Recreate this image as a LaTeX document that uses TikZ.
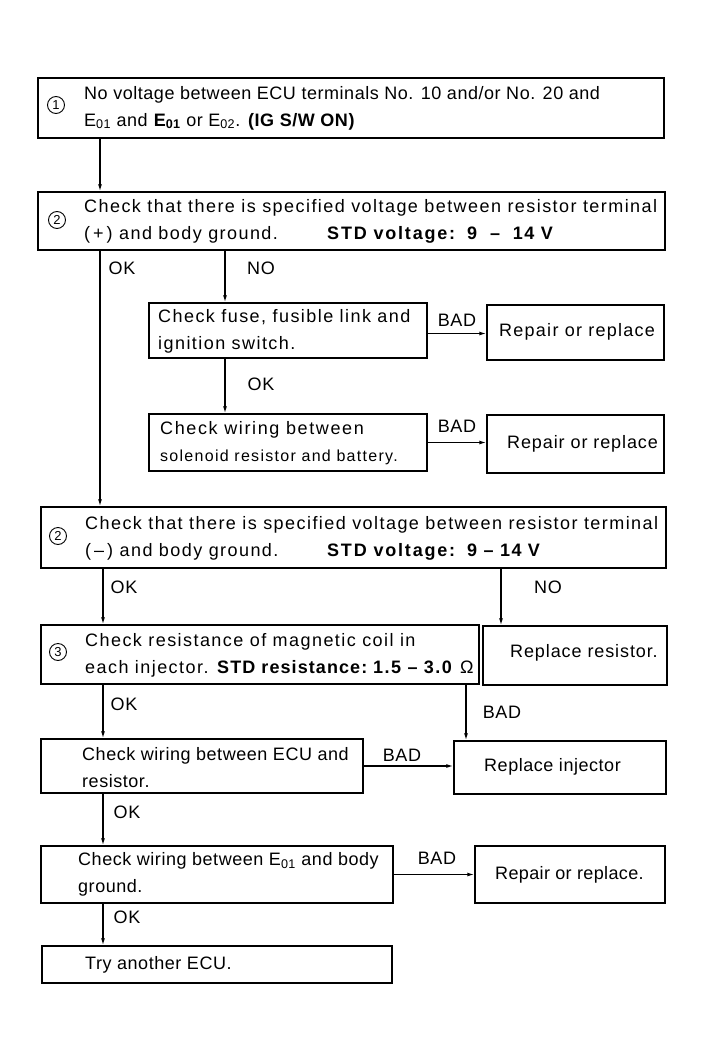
\documentclass[tikz,border=0pt]{standalone}
\usepackage{fontspec}
\setmainfont{Liberation Sans}[LetterSpace=3]
\usetikzlibrary{arrows.meta}

\begin{document}
\begin{tikzpicture}[x=1pt,y=-1pt,
    box/.style={draw,line width=1.4pt,inner sep=0pt},
    txt/.style={anchor=west,align=left,inner sep=0pt,font=\fontsize{18}{27}\selectfont},
    wide/.style={txt,font=\fontsize{18}{27}\selectfont\addfontfeature{LetterSpace=8}},
    lbl/.style={inner sep=0pt,font=\fontsize{18}{20}\selectfont},
    num/.style={draw,circle,line width=0.9pt,inner sep=0pt,minimum size=17pt,font=\fontsize{13}{13}\selectfont},
    arr/.style={line width=1.3pt,-{Latex[length=7pt,width=4pt]}}]
    \useasboundingbox (0,0) rectangle (705,1062);
    % boxes
    \node[box,minimum width=626,minimum height=60] (b1) at (351,108) {};
    \node[box,minimum width=627,minimum height=58] (b2) at (351.5,221) {};
    \node[box,minimum width=278,minimum height=55] (b3) at (288,330.5) {};
    \node[box,minimum width=177,minimum height=55] (r1) at (575.5,332.5) {};
    \node[box,minimum width=278,minimum height=57] (b4) at (288,442.5) {};
    \node[box,minimum width=177,minimum height=58] (r2) at (575.5,444) {};
    \node[box,minimum width=625,minimum height=61] (b5) at (353.5,537.5) {};
    \node[box,minimum width=438,minimum height=59] (b6) at (260,654.5) {};
    \node[box,minimum width=184,minimum height=59] (r3) at (575,655.5) {};
    \node[box,minimum width=322,minimum height=54] (b7) at (202,766) {};
    \node[box,minimum width=212,minimum height=53] (r4) at (560,767.5) {};
    \node[box,minimum width=352,minimum height=57] (b8) at (217,874.5) {};
    \node[box,minimum width=190,minimum height=57] (r5) at (570,874.5) {};
    \node[box,minimum width=350,minimum height=37] (b9) at (217,964.5) {};
    % step numbers
    \node[num] (n1) at (56,105) {1};
    \node[num] (n2) at (57,220) {2};
    \node[num] (n3) at (58,536) {2};
    \node[num] (n4) at (58,652) {3};
    % texts
    \node[txt] (t1) at (84,108) {No voltage between ECU terminals No. 10 and/or No. 20 and\\
        E\textsubscript{01} and \textbf{E\textsubscript{01}} or E\textsubscript{02}. \textbf{(IG S/W ON)}};
    \node[wide] (t2) at (84,221) {Check that there is specified voltage between resistor terminal\\
        \makebox[243pt][l]{(\,+\,) and body ground.}%
        \makebox[140pt][l]{\bfseries\addfontfeature{LetterSpace=10}STD voltage:}%
        \textbf{9 \ -- \ 14 V}};
    \node[wide] (t3) at (158,331) {Check fuse, fusible link and\\ignition switch.};
    \node[txt,font=\fontsize{18}{27}\selectfont\addfontfeature{LetterSpace=9}] (t4) at (160,443) {Check wiring between\\
        {\fontsize{16}{20}\selectfont\addfontfeature{LetterSpace=8}solenoid resistor and battery.}};
    \node[wide] (t5) at (85,538) {Check that there is specified voltage between resistor terminal\\
        \makebox[242pt][l]{(\,--\,) and body ground.}%
        \makebox[140pt][l]{\bfseries\addfontfeature{LetterSpace=10}STD voltage:}%
        \textbf{9 -- 14 V}};
    \node[wide] (t6) at (85,655) {Check resistance of magnetic coil in\\
        \makebox[132pt][l]{each injector.}%
        \makebox[156pt][l]{\bfseries\addfontfeature{LetterSpace=6}STD resistance:}%
        \makebox[87pt][l]{\bfseries 1.5 -- 3.0}Ω};
    \node[txt] (t7) at (82,768) {Check wiring between ECU and\\resistor.};
    \node[txt] (t8) at (78,874) {Check wiring between E\textsubscript{01} and body\\ground.};
    \node[txt] (t9) at (85,965) {Try another ECU.};
    \node[txt,font=\fontsize{18}{27}\selectfont\addfontfeature{LetterSpace=7}] (tr1) at (499,332) {Repair or replace};
    \node[txt,font=\fontsize{18}{27}\selectfont\addfontfeature{LetterSpace=5}] (tr2) at (507,444) {Repair or replace};
    \node[txt,font=\fontsize{18}{27}\selectfont\addfontfeature{LetterSpace=5}] (tr3) at (510,653) {Replace resistor.};
    \node[txt] (tr4) at (484,767) {Replace injector};
    \node[txt,font=\fontsize{18}{27}\selectfont\addfontfeature{LetterSpace=2}] (tr5) at (495,875) {Repair or replace.};
    % branch labels
    \node[lbl] (ok1) at (122,268) {OK};
    \node[lbl] (no1) at (261,268) {NO};
    \node[lbl] (bad1) at (457,320) {BAD};
    \node[lbl] (ok2) at (261,384) {OK};
    \node[lbl] (bad2) at (457,426) {BAD};
    \node[lbl] (ok3) at (124,587) {OK};
    \node[lbl] (no2) at (548,587) {NO};
    \node[lbl] (ok4) at (124,704) {OK};
    \node[lbl] (bad3) at (502,712) {BAD};
    \node[lbl] (bad4) at (402,755) {BAD};
    \node[lbl] (ok5) at (127,812) {OK};
    \node[lbl] (bad5) at (437,858) {BAD};
    \node[lbl] (ok6) at (127,917) {OK};
    % connectors
    \coordinate (xa) at (100,0);
    \coordinate (xb) at (225,0);
    \coordinate (xc) at (501,0);
    \coordinate (xd) at (466,0);
    \coordinate (xe) at (103,0);
    \draw[arr] (b1.south -| xa) -- (b2.north -| xa);
    \draw[arr] (b2.south -| xa) -- (b5.north -| xa);
    \draw[arr] (b2.south -| xb) -- (b3.north -| xb);
    \draw[arr] (b3.south -| xb) -- (b4.north -| xb);
    \draw[arr] ([yshift=-3pt]b3.east) -- ([yshift=-3pt]b3.east -| r1.west);
    \draw[arr] (b4.east) -- (b4.east -| r2.west);
    \draw[arr] (b5.south -| xe) -- (b6.north -| xe);
    \draw[arr] (b5.south -| xc) -- (r3.north -| xc);
    \draw[arr] (b6.south -| xe) -- (b7.north -| xe);
    \draw[arr] (b6.south -| xd) -- (r4.north -| xd);
    \draw[arr] (b7.east) -- (b7.east -| r4.west);
    \draw[arr] (b7.south -| xe) -- (b8.north -| xe);
    \draw[arr] (b8.east) -- (b8.east -| r5.west);
    \draw[arr] (b8.south -| xe) -- (b9.north -| xe);
\end{tikzpicture}
\end{document}
